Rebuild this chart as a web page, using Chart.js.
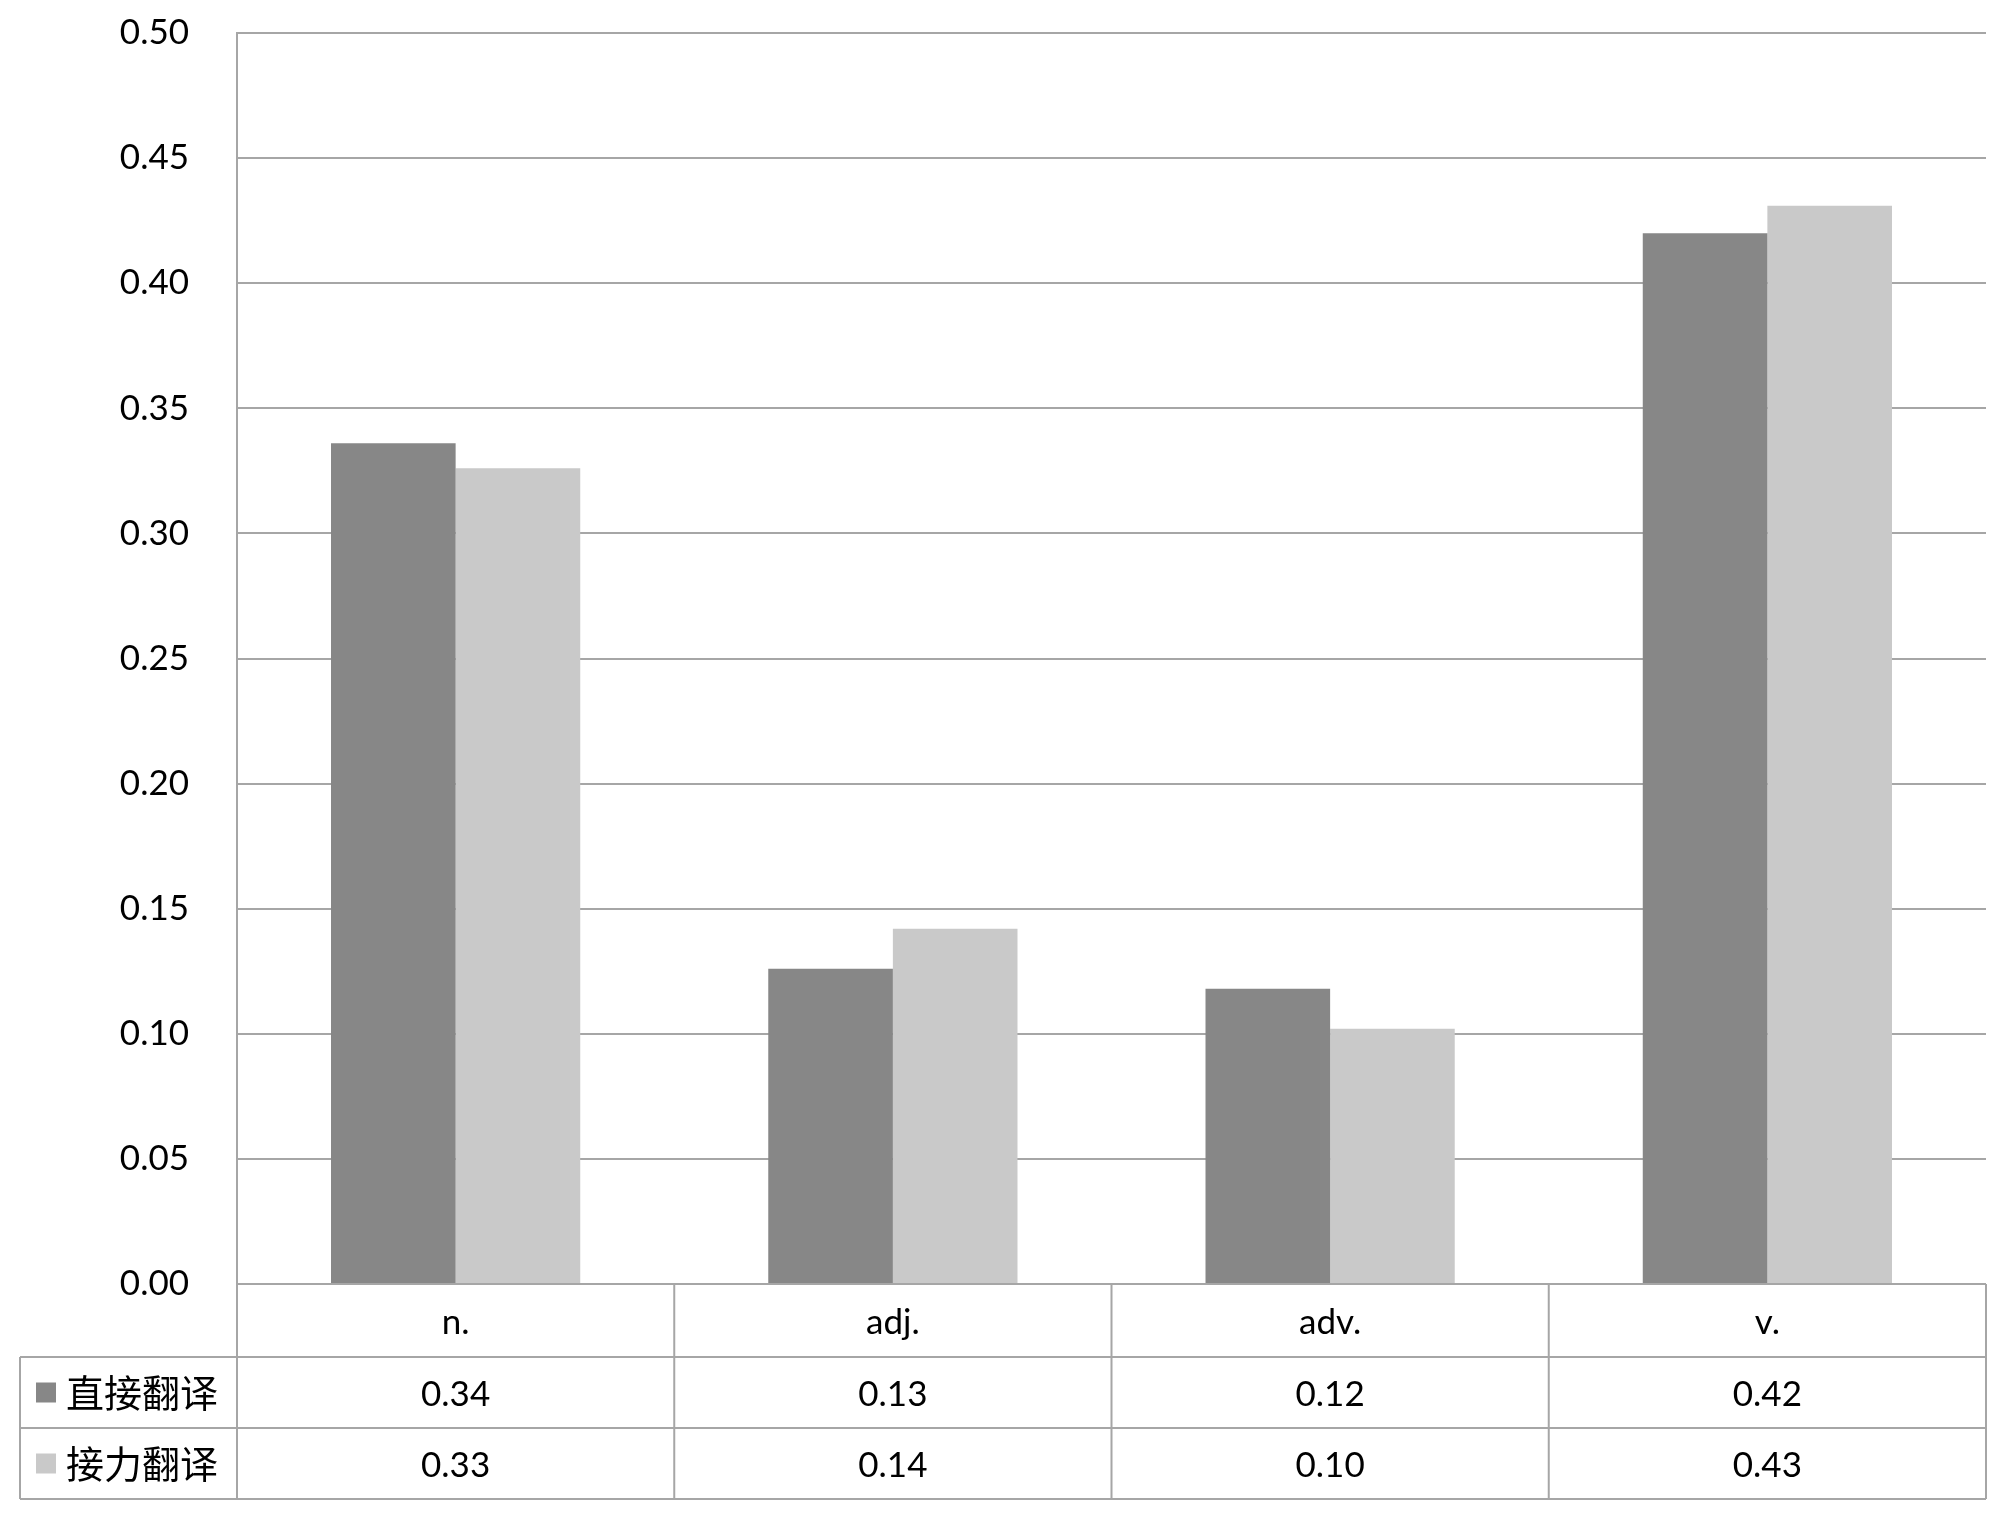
<!DOCTYPE html>
<html>
<head>
<meta charset="utf-8">
<script src="https://cdn.jsdelivr.net/npm/chart.js@4/dist/chart.umd.min.js"></script>
<style>
  html, body { margin: 0; padding: 0; background: #fff; }
  canvas { display: block; }
</style>
</head>
<body>
<canvas id="chart" width="2000" height="1520"></canvas>
<script>
const categories = ['n.', 'adj.', 'adv.', 'v.'];
const seriesNames = ['直接翻译', '接力翻译'];
const directValues = [0.336, 0.126, 0.118, 0.420];
const relayValues = [0.326, 0.142, 0.102, 0.431];
const yTicks = [0, 0.05, 0.10, 0.15, 0.20, 0.25, 0.30, 0.35, 0.40, 0.45, 0.50];

const darkGray = '#878787';
const lightGray = '#c9c9c9';
const lineGray = '#a6a6a6';
const numFont = 'Lato, "Open Sans", sans-serif';
const cjkFont = '"Noto Sans CJK SC", sans-serif';

// data table drawn under the plot, columns follow the x scale
const dataTable = {
  id: 'dataTable',
  afterDraw(chart) {
    const ctx = chart.ctx;
    const xs = chart.scales.x;
    const ca = chart.chartArea;
    const tableLeft = 20;
    const catRowH = 73;
    const rowH = 71;
    const colW = (ca.right - ca.left) / categories.length;
    const rowTops = [ca.bottom + catRowH, ca.bottom + catRowH + rowH];
    const tableBottom = ca.bottom + catRowH + rowH * 2;

    ctx.save();
    ctx.strokeStyle = lineGray;
    ctx.lineWidth = 2;
    ctx.beginPath();
    // horizontal lines
    [rowTops[0], rowTops[1], tableBottom].forEach(y => {
      ctx.moveTo(tableLeft, y);
      ctx.lineTo(ca.right, y);
    });
    // vertical lines
    for (let i = 0; i <= categories.length; i++) {
      const x = ca.left + i * colW;
      ctx.moveTo(x, ca.bottom);
      ctx.lineTo(x, tableBottom);
    }
    ctx.moveTo(tableLeft, rowTops[0]);
    ctx.lineTo(tableLeft, tableBottom);
    ctx.stroke();

    ctx.textBaseline = 'middle';
    chart.data.datasets.forEach((ds, r) => {
      const cy = rowTops[r] + rowH / 2;
      // legend key
      ctx.fillStyle = ds.backgroundColor;
      ctx.fillRect(36, cy - 10, 20, 20);
      ctx.fillStyle = '#000';
      ctx.textAlign = 'left';
      ctx.font = '38px ' + cjkFont;
      ctx.fillText(ds.label, 66, cy);
      // values
      ctx.textAlign = 'center';
      ctx.font = '35px ' + numFont;
      ds.data.forEach((v, i) => {
        ctx.fillText(v.toFixed(2), xs.getPixelForValue(i), cy + 2);
      });
    });
    ctx.restore();
  }
};

new Chart(document.getElementById('chart'), {
  type: 'bar',
  data: {
    labels: categories,
    datasets: [
      { label: seriesNames[0], data: directValues, backgroundColor: darkGray },
      { label: seriesNames[1], data: relayValues, backgroundColor: lightGray }
    ]
  },
  options: {
    responsive: false,
    animation: false,
    layout: { padding: { top: 0, right: 14, left: 0, bottom: 0 } },
    datasets: { bar: { categoryPercentage: 0.57, barPercentage: 1.0 } },
    scales: {
      x: {
        grid: { display: false },
        border: { display: false },
        ticks: { color: '#000', font: { family: numFont, size: 35 }, padding: 10 },
        afterFit(scale) { scale.height = 236; }
      },
      y: {
        min: 0,
        max: 0.5,
        afterBuildTicks(scale) { scale.ticks = yTicks.map(v => ({ value: v })); },
        grid: { color: lineGray, lineWidth: 2, drawTicks: false },
        border: { display: true, color: lineGray, width: 2 },
        ticks: {
          color: '#000',
          padding: 48,
          font: { family: numFont, size: 35 },
          callback: v => v.toFixed(2)
        },
        afterFit(scale) {
          scale.width = 237;
          scale.paddingTop = 33;
          scale.paddingBottom = 0;
        }
      }
    },
    plugins: { legend: { display: false }, tooltip: { enabled: false } }
  },
  plugins: [dataTable]
});
</script>
</body>
</html>
